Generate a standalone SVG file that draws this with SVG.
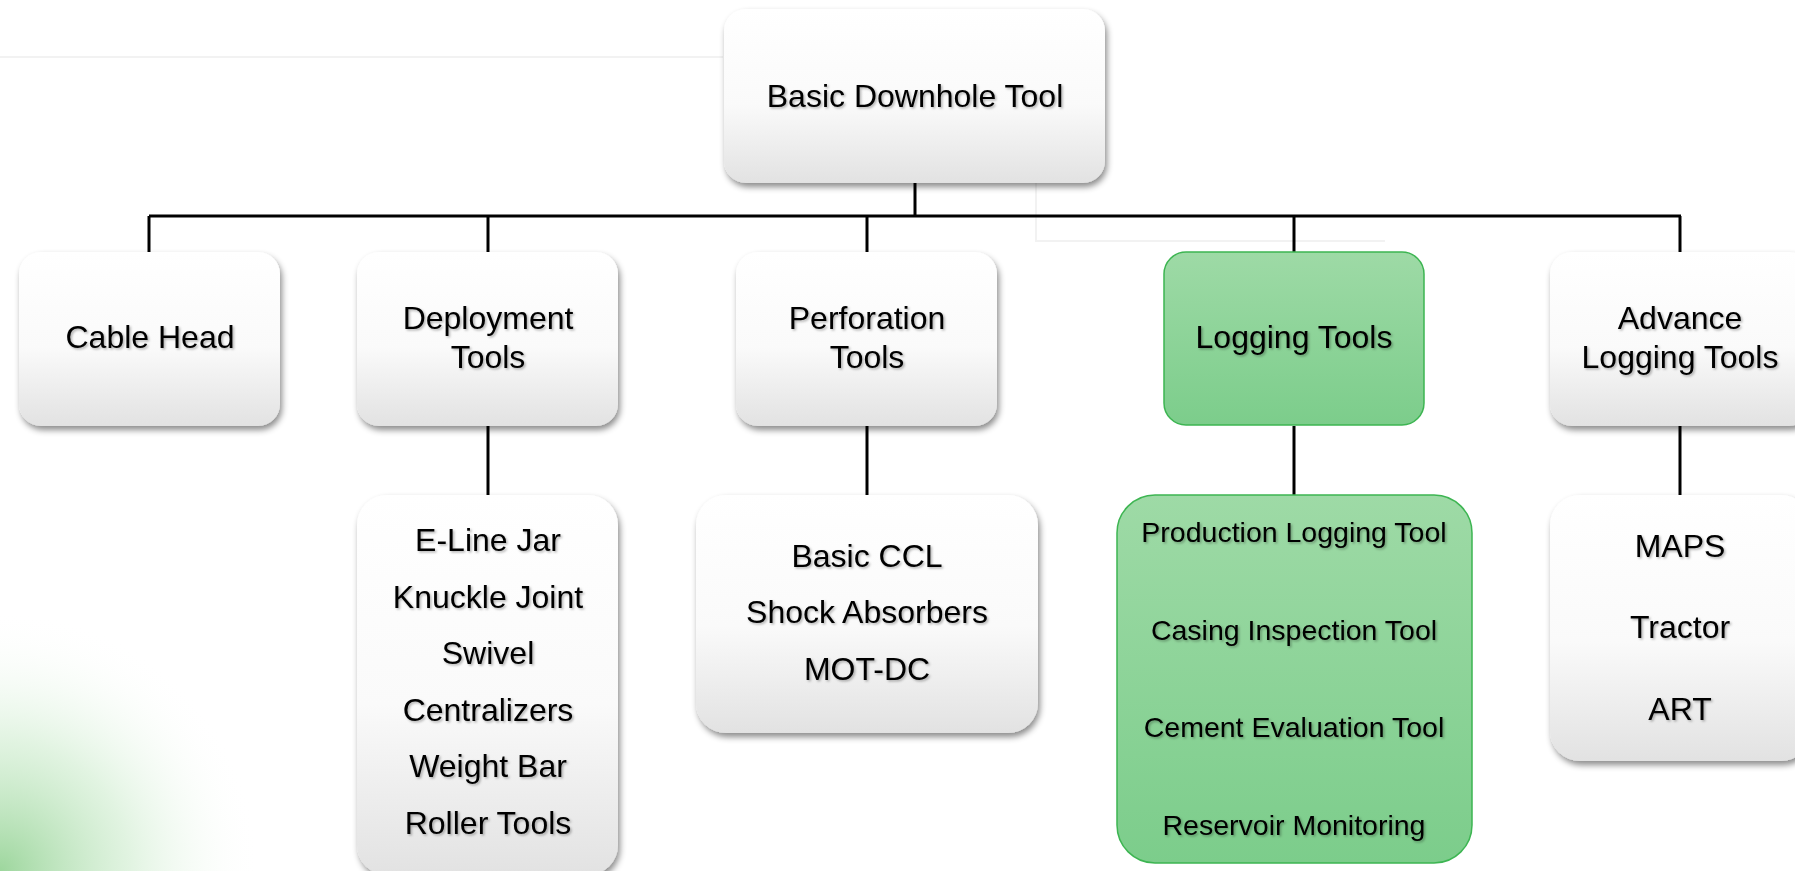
<svg xmlns="http://www.w3.org/2000/svg" width="1795" height="871" viewBox="0 0 1795 871">
<defs>
<linearGradient id="gGrey" x1="0" y1="0" x2="0" y2="1">
<stop offset="0" stop-color="#ffffff"/>
<stop offset="0.55" stop-color="#fafafa"/>
<stop offset="1" stop-color="#e2e2e2"/>
</linearGradient>
<linearGradient id="gGreen" x1="0" y1="0" x2="0" y2="1">
<stop offset="0" stop-color="#9edaa6"/>
<stop offset="1" stop-color="#7ccd8b"/>
</linearGradient>
<radialGradient id="glow" cx="0" cy="871" r="260" gradientUnits="userSpaceOnUse">
<stop offset="0" stop-color="#98d498" stop-opacity="0.95"/>
<stop offset="0.5" stop-color="#cdeccd" stop-opacity="0.6"/>
<stop offset="1" stop-color="#ffffff" stop-opacity="0"/>
</radialGradient>
<filter id="boxShadow" x="-10%" y="-10%" width="125%" height="130%">
<feDropShadow dx="2" dy="4" stdDeviation="3" flood-color="#000" flood-opacity="0.45"/>
</filter>
<filter id="txtShadow" x="-5%" y="-20%" width="110%" height="150%">
<feDropShadow dx="1.5" dy="1.5" stdDeviation="1" flood-color="#000" flood-opacity="0.3"/>
</filter>
</defs>
<style>
.box{fill:url(#gGrey);filter:url(#boxShadow)}
.gbox{fill:url(#gGreen);stroke:#3db552;stroke-width:1.5}
.t{font-family:"Liberation Sans",Arial,sans-serif;font-size:32px;fill:#000;text-anchor:middle;filter:url(#txtShadow)}
.ts{font-size:28.5px}
.ln{stroke:#000;stroke-width:3;fill:none}
.bg{stroke:#f2f2f2;stroke-width:2;fill:none}
</style>
<rect width="1795" height="871" fill="#ffffff"/>
<ellipse cx="0" cy="871" rx="260" ry="320" fill="url(#glow)"/>
<path class="bg" d="M0 57 H723"/>
<path class="bg" d="M1036 183 V241 H1385"/>
<g id="connectors">
<path class="ln" d="M915 183 V216"/>
<path class="ln" d="M149 216 H1681"/>
<path class="ln" d="M149 216 V252"/>
<path class="ln" d="M488 216 V252"/>
<path class="ln" d="M867 216 V252"/>
<path class="ln" d="M1294 216 V252"/>
<path class="ln" d="M1680 216 V252"/>
<path class="ln" d="M488 426 V495"/>
<path class="ln" d="M867 426 V495"/>
<path class="ln" d="M1294 426 V495"/>
<path class="ln" d="M1680 426 V495"/>
</g>
<g id="root">
<rect class="box" x="724" y="9" width="381" height="174" rx="22"/>
<text class="t" x="915" y="107">Basic Downhole Tool</text>
</g>
<g id="cable-head">
<rect class="box" x="19" y="252" width="261" height="174" rx="22"/>
<text class="t" x="150" y="348">Cable Head</text>
</g>
<g id="deployment-tools">
<rect class="box" x="357" y="252" width="261" height="174" rx="22"/>
<text class="t" x="488" y="329">Deployment</text>
<text class="t" x="488" y="368">Tools</text>
</g>
<g id="perforation-tools">
<rect class="box" x="736" y="252" width="261" height="174" rx="22"/>
<text class="t" x="867" y="329">Perforation</text>
<text class="t" x="867" y="368">Tools</text>
</g>
<g id="logging-tools">
<rect class="gbox" x="1164" y="252" width="260" height="173" rx="22"/>
<text class="t" x="1294" y="348">Logging Tools</text>
</g>
<g id="advance-logging-tools">
<rect class="box" x="1550" y="252" width="261" height="174" rx="22"/>
<text class="t" x="1680" y="329">Advance</text>
<text class="t" x="1680" y="368">Logging Tools</text>
</g>
<g id="deployment-list">
<rect class="box" x="357" y="495" width="261" height="380" rx="30"/>
<text class="t" x="488" y="551">E-Line Jar</text>
<text class="t" x="488" y="608">Knuckle Joint</text>
<text class="t" x="488" y="664">Swivel</text>
<text class="t" x="488" y="721">Centralizers</text>
<text class="t" x="488" y="777">Weight Bar</text>
<text class="t" x="488" y="834">Roller Tools</text>
</g>
<g id="perforation-list">
<rect class="box" x="696" y="495" width="342" height="238" rx="30"/>
<text class="t" x="867" y="567">Basic CCL</text>
<text class="t" x="867" y="623">Shock Absorbers</text>
<text class="t" x="867" y="680">MOT-DC</text>
</g>
<g id="logging-list">
<rect class="gbox" x="1117" y="495" width="355" height="368" rx="38"/>
<text class="t ts" x="1294" y="542">Production Logging Tool</text>
<text class="t ts" x="1294" y="640">Casing Inspection Tool</text>
<text class="t ts" x="1294" y="737">Cement Evaluation Tool</text>
<text class="t ts" x="1294" y="835">Reservoir Monitoring</text>
</g>
<g id="advance-list">
<rect class="box" x="1550" y="495" width="261" height="266" rx="30"/>
<text class="t" x="1680" y="557">MAPS</text>
<text class="t" x="1680" y="638">Tractor</text>
<text class="t" x="1680" y="720">ART</text>
</g>
</svg>
